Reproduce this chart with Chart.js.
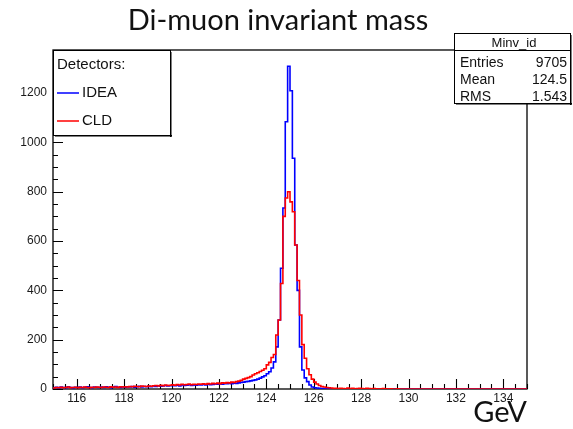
<!DOCTYPE html>
<html>
<head>
<meta charset="utf-8">
<script src="https://cdn.jsdelivr.net/npm/chart.js@4/dist/chart.umd.min.js"></script>
<style>
  html, body { margin: 0; padding: 0; background: #ffffff; }
  canvas { display: block; }
</style>
</head>
<body>
<canvas id="chart" width="573" height="429"></canvas>
<script>
// Histogram binning: 200 bins of 0.1 GeV from 115 to 135 GeV
const histLow = 115;
const histHigh = 135;
const binWidth = 0.1;

// Bin contents, one entry per bin (lowest bin first)
const ideaCounts = [
  5, 7, 4, 8, 6, 5, 9, 6, 4, 7,
  6, 8, 5, 7, 9, 6, 5, 8, 7, 6,
  8, 6, 9, 7, 5, 8, 10, 7, 6, 9,
  7, 9, 8, 10, 7, 9, 11, 8, 10, 9,
  11, 9, 12, 10, 13, 11, 12, 14, 12, 13,
  14, 13, 15, 12, 16, 14, 15, 17, 14, 16,
  15, 17, 16, 18, 16, 19, 17, 18, 20, 19,
  20, 19, 22, 21, 23, 22, 24, 23, 25, 27,
  28, 30, 31, 33, 35, 37, 40, 44, 49, 54,
  62, 70, 85, 110, 171, 280, 490, 734, 1084, 1309,
  1210, 936, 584, 400, 171, 77, 45, 30, 16, 8,
  5, 4, 3, 2, 2, 1, 1, 0, 1, 0,
  0, 1, 0, 0, 0, 1, 0, 0, 0, 0,
  0, 0, 0, 1, 0, 0, 0, 0, 0, 0,
  0, 0, 0, 0, 0, 0, 0, 0, 0, 0,
  0, 0, 0, 0, 0, 0, 0, 0, 0, 0,
  0, 0, 0, 0, 0, 0, 0, 0, 0, 0,
  0, 0, 0, 0, 0, 0, 0, 0, 0, 0,
  0, 0, 0, 0, 0, 0, 0, 0, 0, 0,
  0, 0, 0, 0, 0, 0, 0, 0, 0, 0
];

const cldCounts = [
  4, 6, 5, 7, 5, 6, 8, 5, 6, 7,
  5, 7, 6, 8, 6, 5, 7, 6, 8, 7,
  6, 8, 7, 6, 9, 7, 8, 6, 9, 8,
  9, 8, 10, 9, 11, 10, 9, 12, 11, 10,
  12, 11, 13, 14, 12, 15, 13, 16, 14, 15,
  17, 15, 18, 16, 19, 17, 18, 20, 17, 19,
  18, 20, 19, 21, 19, 22, 20, 23, 21, 24,
  22, 25, 24, 26, 25, 28, 27, 30, 32, 35,
  40, 43, 46, 50, 57, 62, 66, 71, 76, 82,
  98, 108, 128, 140, 219, 280, 428, 700, 775, 800,
  759, 719, 584, 440, 300, 180, 125, 82, 58, 40,
  28, 20, 14, 10, 8, 6, 5, 4, 3, 3,
  2, 3, 2, 1, 4, 2, 3, 1, 2, 3,
  2, 1, 3, 2, 1, 2, 1, 0, 1, 2,
  1, 0, 1, 0, 0, 1, 0, 0, 0, 0,
  0, 0, 0, 0, 0, 0, 0, 0, 0, 0,
  0, 0, 0, 0, 0, 0, 0, 0, 0, 0,
  0, 0, 0, 0, 0, 0, 0, 0, 0, 0,
  0, 0, 0, 0, 0, 0, 0, 0, 0, 0,
  0, 0, 0, 0, 0, 0, 0, 0, 0, 0
];

// Axis labels
const xTickLabels = [116, 118, 120, 122, 124, 126, 128, 130, 132, 134];
const yTickLabels = [0, 200, 400, 600, 800, 1000, 1200];
const xMinorStep = 0.5;
const yMinorStep = 50;
const yAxisMax = 1375;

// Series names and statistics panel
const seriesNames = ['IDEA', 'CLD'];
const seriesColors = ['#0000ff', '#ff0000'];
const legendHeader = 'Detectors:';
const statsTitle = 'Minv_id';
const statsRows = [['Entries', '9705'], ['Mean', '124.5'], ['RMS', '1.543']];

const axisFont = '"Liberation Sans", Arial, Helvetica, sans-serif';
const titleFont = 'Lato, "Open Sans", sans-serif';

// Turn bin contents into step points placed at the lower bin edges
function stepPoints(counts) {
  const pts = counts.map((v, i) => ({ x: histLow + i * binWidth, y: v }));
  pts.push({ x: histHigh, y: counts[counts.length - 1] });
  return pts;
}

// Frame and inward-pointing tick marks (drawn beneath the histograms)
const framePlugin = {
  id: 'frameTicks',
  beforeDatasetsDraw(chart) {
    const { ctx, chartArea: a, scales: { x, y } } = chart;
    ctx.save();
    ctx.strokeStyle = '#000';
    ctx.lineWidth = 1.3;
    ctx.strokeRect(a.left, a.top, a.right - a.left, a.bottom - a.top);
    ctx.lineWidth = 1.1;
    ctx.beginPath();
    for (let v = histLow; v <= histHigh + 1e-9; v += xMinorStep) {
      const px = Math.round(x.getPixelForValue(v)) + 0.5;
      const major = xTickLabels.some(t => Math.abs(t - v) < 1e-6);
      ctx.moveTo(px, a.bottom);
      ctx.lineTo(px, a.bottom - (major ? 10 : 5));
    }
    for (let v = 0; v <= yAxisMax; v += yMinorStep) {
      const py = Math.round(y.getPixelForValue(v)) + 0.5;
      const major = yTickLabels.includes(v);
      ctx.moveTo(a.left, py);
      ctx.lineTo(a.left + (major ? 10 : 5), py);
    }
    ctx.stroke();
    ctx.restore();
  }
};

// Boxed legend and statistics panel
function pave(ctx, x0, y0, w, h) {
  ctx.fillStyle = '#fff';
  ctx.fillRect(x0, y0, w, h);
  ctx.fillStyle = '#000';
  ctx.fillRect(x0 + 2, y0 + h, w, 1.5);
  ctx.fillRect(x0 + w, y0 + 2, 1.5, h);
  ctx.strokeStyle = '#000';
  ctx.lineWidth = 1;
  ctx.strokeRect(x0 + 0.5, y0 + 0.5, w, h);
}

const panelPlugin = {
  id: 'panels',
  afterDraw(chart) {
    const { ctx, chartArea: a } = chart;
    ctx.save();
    // legend
    const lx = a.left, ly = a.top;
    pave(ctx, lx, ly, 117, 85);
    ctx.fillStyle = '#111';
    ctx.font = '15px ' + axisFont;
    ctx.textBaseline = 'middle';
    ctx.textAlign = 'left';
    ctx.fillText(legendHeader, lx + 4, ly + 15);
    chart.data.datasets.forEach((ds, i) => {
      const yy = ly + 43 + i * 28;
      ctx.strokeStyle = ds.borderColor;
      ctx.lineWidth = 1.5;
      ctx.beginPath();
      ctx.moveTo(lx + 4, yy);
      ctx.lineTo(lx + 26, yy);
      ctx.stroke();
      ctx.fillStyle = '#111';
      ctx.fillText(ds.label, lx + 29, yy);
    });
    // statistics
    const sx = 454, sy = 33, sw = 116, sh = 70;
    pave(ctx, sx, sy, sw, sh);
    ctx.strokeStyle = '#000';
    ctx.lineWidth = 1;
    ctx.beginPath();
    ctx.moveTo(sx, a.top + 0.5);
    ctx.lineTo(sx + sw, a.top + 0.5);
    ctx.stroke();
    ctx.fillStyle = '#111';
    ctx.font = '13px ' + axisFont;
    ctx.textAlign = 'center';
    ctx.fillText(statsTitle, sx + sw / 2 + 2, sy + 10);
    ctx.font = '14px ' + axisFont;
    statsRows.forEach((r, i) => {
      const yy = sy + 30 + i * 17;
      ctx.textAlign = 'left';
      ctx.fillText(r[0], sx + 6, yy);
      ctx.textAlign = 'right';
      ctx.fillText(r[1], sx + sw - 3, yy);
    });
    ctx.restore();
  }
};

new Chart(document.getElementById('chart'), {
  type: 'line',
  data: {
    datasets: [
      {
        label: seriesNames[0],
        data: stepPoints(ideaCounts),
        borderColor: seriesColors[0],
        borderWidth: 1.6,
        stepped: 'before',
        pointRadius: 0,
        fill: false,
        order: 1
      },
      {
        label: seriesNames[1],
        data: stepPoints(cldCounts),
        borderColor: seriesColors[1],
        borderWidth: 1.6,
        stepped: 'before',
        pointRadius: 0,
        fill: false,
        order: 0
      }
    ]
  },
  options: {
    responsive: false,
    animation: false,
    events: [],
    layout: { padding: { left: 13, right: 30, top: 0, bottom: 0 } },
    plugins: {
      legend: { display: false },
      tooltip: { enabled: false },
      title: {
        display: true,
        text: 'Di-muon invariant mass',
        color: '#111',
        font: { family: titleFont, size: 29, weight: 'normal', lineHeight: 1.2 },
        padding: { top: 3, bottom: 12.2 }
      }
    },
    scales: {
      x: {
        type: 'linear',
        min: histLow,
        max: histHigh,
        grid: { display: false, drawTicks: false },
        border: { display: false },
        afterBuildTicks: s => { s.ticks = xTickLabels.map(v => ({ value: v })); },
        afterFit: s => { s.height = 40; },
        ticks: {
          color: '#1a1a1a', font: { family: axisFont, size: 12 }, padding: 2,
          maxRotation: 0, autoSkip: false, callback: v => String(v)
        },
        title: {
          display: true, text: 'GeV', align: 'end', color: '#111',
          font: { family: titleFont, size: 29, weight: 'normal' }, padding: { top: 0, bottom: -1 }
        }
      },
      y: {
        type: 'linear',
        min: 0,
        max: yAxisMax,
        grid: { display: false, drawTicks: false },
        border: { display: false },
        afterBuildTicks: s => { s.ticks = yTickLabels.map(v => ({ value: v })); },
        afterFit: s => { s.width = 40; },
        ticks: {
          color: '#1a1a1a', font: { family: axisFont, size: 12 }, padding: 6,
          autoSkip: false, callback: v => String(v)
        }
      },
      // empty margin strip on the right of the frame
      yRight: {
        type: 'linear',
        position: 'right',
        display: true,
        grid: { display: false, drawTicks: false },
        border: { display: false },
        ticks: { display: false },
        afterFit: s => { s.width = 16; }
      }
    }
  },
  plugins: [framePlugin, panelPlugin]
});
</script>
</body>
</html>
